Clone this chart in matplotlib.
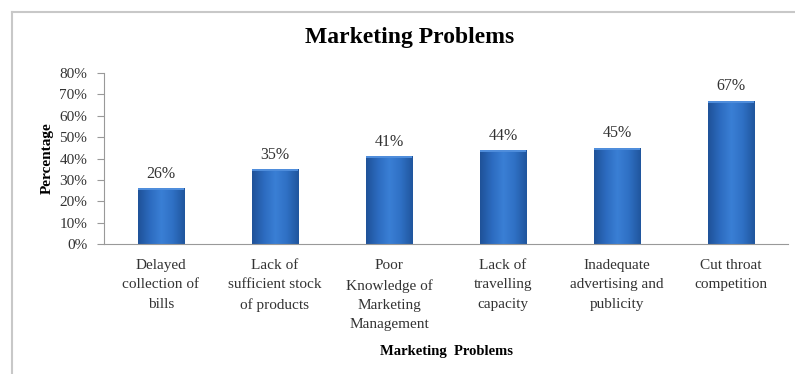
import numpy as np
import matplotlib.pyplot as plt
from matplotlib.colors import LinearSegmentedColormap
from matplotlib.patches import Rectangle
from matplotlib.lines import Line2D

categories = [
    "Delayed\ncollection of\nbills",
    "Lack of\nsufficient stock\nof products",
    "Poor\nKnowledge of\nMarketing\nManagement",
    "Lack of\ntravelling\ncapacity",
    "Inadequate\nadvertising and\npublicity",
    "Cut throat\ncompetition",
]
values = [26, 35, 41, 44, 45, 67]
yticks = [0, 10, 20, 30, 40, 50, 60, 70, 80]

plt.rcParams['font.family'] = ['Liberation Serif', 'DejaVu Serif']

fig = plt.figure(figsize=(7.95, 3.74), dpi=100)
ax = fig.add_axes([104 / 795, 1 - 244 / 374, 684 / 795, 171 / 374])

# outer chart frame (left and top edges show)
fig.add_artist(Line2D([12 / 795, 12 / 795], [0, 1 - 12 / 374], color='#c8c8c8', lw=1.5,
                      transform=fig.transFigure))
fig.add_artist(Line2D([12 / 795, 1], [1 - 12 / 374, 1 - 12 / 374], color='#c8c8c8', lw=1.5,
                      transform=fig.transFigure))

x = np.arange(len(values))
width = 0.41
bars = ax.bar(x, values, width=width, color='none', edgecolor='none')

# shaded fill for each bar
cmap = LinearSegmentedColormap.from_list(
    'barshade', ['#1f5299', '#2c6bbf', '#3a7fd5', '#2f70c4', '#20569e'])
grad = np.linspace(0, 1, 64).reshape(1, -1)
for b in bars:
    x0, w, h = b.get_x(), b.get_width(), b.get_height()
    im = ax.imshow(grad, cmap=cmap, aspect='auto', extent=[x0, x0 + w, 0, h],
                   interpolation='bicubic', zorder=2)
    im.set_clip_path(Rectangle((x0, 0), w, h, transform=ax.transData))
    ax.add_patch(Rectangle((x0, h - 0.9), w, 0.9, color='#4f8ddb', lw=0, zorder=3))

for xi, v in zip(x, values):
    ax.text(xi, v + 3, f"{v}%", ha='center', va='bottom', fontsize=11.5, color='#333333')

ax.set_xlim(-0.5, len(values) - 0.5)
ax.set_ylim(0, 80)
ax.set_yticks(yticks)
ax.set_yticklabels([f"{t}%" for t in yticks], fontsize=11, color='#333333')
ax.set_xticks(x)
ax.set_xticklabels(categories, fontsize=11, color='#333333', linespacing=1.62)
ax.tick_params(axis='x', length=0, pad=11)
ax.tick_params(axis='y', length=5, color='#999999', pad=7)

for s in ['top', 'right']:
    ax.spines[s].set_visible(False)
ax.spines['left'].set_color('#999999')
ax.spines['bottom'].set_color('#999999')

ax.set_ylabel("Percentage", fontsize=11, fontweight='bold', labelpad=4)
ax.set_xlabel("Marketing  Problems", fontsize=10.5, fontweight='bold', labelpad=10)
fig.text(410 / 795, 1 - 38 / 374, "Marketing Problems", ha='center', va='center',
         fontsize=17, fontweight='bold')

fig.savefig('out.png', dpi=100, facecolor='white')
